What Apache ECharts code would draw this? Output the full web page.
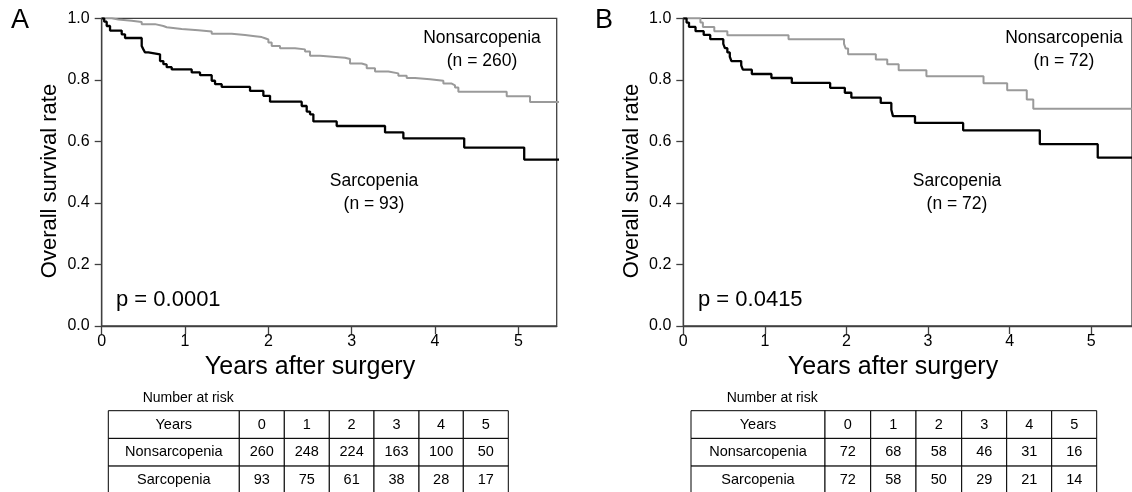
<!DOCTYPE html>
<html><head><meta charset="utf-8">
<script src="https://cdn.jsdelivr.net/npm/echarts@6/dist/echarts.min.js"></script>
<style>html,body{margin:0;padding:0;background:#fff}#c{width:1132px;height:492px}</style>
</head><body><div id="c"></div>
<script>
// ---- data ----
const yTicks = [0, 0.2, 0.4, 0.6, 0.8, 1.0];
const xTicks = [0, 1, 2, 3, 4, 5];
// Panel A
const nonA_t = [0, 0.12, 0.2, 0.36, 0.48, 0.64, 0.74, 0.78, 0.96, 1.16, 1.32, 1.56, 1.72, 1.84, 1.92, 1.96, 2.0, 2.04, 2.14, 2.32, 2.44, 2.5, 2.62, 2.92, 2.98, 3.12, 3.18, 3.28, 3.44, 3.56, 3.66, 3.76, 3.94, 4.1, 4.2, 4.24, 4.28, 4.86, 5.14, 5.5];
const nonA_s = [1.0, 0.996, 0.992, 0.988, 0.981, 0.975, 0.971, 0.965, 0.961, 0.957, 0.950, 0.946, 0.942, 0.939, 0.935, 0.931, 0.921, 0.910, 0.903, 0.899, 0.892, 0.878, 0.872, 0.868, 0.853, 0.848, 0.838, 0.827, 0.821, 0.813, 0.806, 0.802, 0.797, 0.788, 0.782, 0.775, 0.761, 0.747, 0.728, 0.728];
const sarA_t = [0, 0.03, 0.06, 0.1, 0.24, 0.28, 0.48, 0.5, 0.52, 0.56, 0.7, 0.74, 0.78, 0.84, 1.08, 1.18, 1.32, 1.36, 1.44, 1.78, 1.94, 2.02, 2.4, 2.46, 2.5, 2.54, 2.82, 3.4, 3.62, 4.35, 5.07, 5.5];
const sarA_s = [1.0, 0.989, 0.975, 0.96, 0.948, 0.936, 0.91, 0.899, 0.889, 0.883, 0.861, 0.851, 0.841, 0.834, 0.824, 0.815, 0.797, 0.786, 0.777, 0.764, 0.748, 0.729, 0.715, 0.697, 0.688, 0.665, 0.65, 0.629, 0.61, 0.58, 0.541, 0.541];
// Panel B
const nonB_t = [0, 0.21, 0.24, 0.38, 0.54, 1.29, 1.97, 1.99, 2.02, 2.36, 2.5, 2.64, 2.98, 3.68, 3.97, 4.21, 4.29, 5.5];
const nonB_s = [1.0, 0.986, 0.972, 0.958, 0.945, 0.932, 0.917, 0.902, 0.883, 0.866, 0.851, 0.831, 0.812, 0.789, 0.766, 0.736, 0.706, 0.706];
const sarB_t = [0, 0.04, 0.07, 0.15, 0.25, 0.33, 0.49, 0.51, 0.54, 0.57, 0.59, 0.71, 0.73, 0.84, 1.08, 1.33, 1.8, 1.98, 2.06, 2.42, 2.55, 2.57, 2.84, 3.43, 4.37, 5.08, 5.5];
const sarB_s = [1.0, 0.986, 0.972, 0.958, 0.946, 0.932, 0.917, 0.903, 0.889, 0.875, 0.861, 0.847, 0.833, 0.819, 0.806, 0.79, 0.774, 0.758, 0.742, 0.725, 0.703, 0.682, 0.66, 0.636, 0.591, 0.547, 0.547];
// Number at risk tables
const riskYears = [0, 1, 2, 3, 4, 5];
const riskNonA = [260, 248, 224, 163, 100, 50];
const riskSarA = [93, 75, 61, 38, 28, 17];
const riskNonB = [72, 68, 58, 46, 31, 16];
const riskSarB = [72, 58, 50, 29, 21, 14];
const rowLabels = ['Years', 'Nonsarcopenia', 'Sarcopenia'];
const groupNames = ['Nonsarcopenia', 'Sarcopenia'];
const pA = 'p = 0.0001', pB = 'p = 0.0415';
const nA = ['(n = 260)', '(n = 93)'], nB = ['(n = 72)', '(n = 72)'];

// ---- layout ----
const FONT = 'Liberation Sans, Arial, sans-serif';
const zip = (t, s) => t.map((v, i) => [v, s[i]]);
const grids = [
  {left: 101.7, top: 18.3, width: 455, height: 307.7, max: 5.46},
  {left: 683.3, top: 18.3, width: 456.5, height: 307.7, max: 5.5}
];
const option = {
  animation: false,
  backgroundColor: '#fff',
  grid: grids.map(g => ({left: g.left, top: g.top, width: g.width, height: g.height, show: true, borderColor: '#404040', borderWidth: 1.3, backgroundColor: 'transparent'})),
  xAxis: grids.map((g, i) => ({
    type: 'value', gridIndex: i, min: 0, max: g.max, interval: 1,
    axisLine: {lineStyle: {color: '#404040', width: 1.3}},
    axisTick: {show: true, length: 8, lineStyle: {color: '#404040', width: 1.3}, customValues: xTicks},
    axisLabel: {fontFamily: FONT, fontSize: 16, color: '#000', margin: 8, customValues: xTicks},
    splitLine: {show: false}
  })),
  yAxis: grids.map((g, i) => ({
    type: 'value', gridIndex: i, min: 0, max: 1, interval: 0.2,
    axisLine: {show: true, lineStyle: {color: '#404040', width: 1.3}},
    axisTick: {show: true, length: 7, lineStyle: {color: '#404040', width: 1.3}},
    axisLabel: {fontFamily: FONT, fontSize: 16, color: '#000', margin: 12, formatter: v => v.toFixed(1)},
    splitLine: {show: false}
  })),
  series: [
    {name: groupNames[0], type: 'line', step: 'end', xAxisIndex: 0, yAxisIndex: 0, showSymbol: false, data: zip(nonA_t, nonA_s), lineStyle: {color: '#9a9a9a', width: 2}, z: 2},
    {name: groupNames[1], type: 'line', step: 'end', xAxisIndex: 0, yAxisIndex: 0, showSymbol: false, data: zip(sarA_t, sarA_s), lineStyle: {color: '#000', width: 2.3}, z: 3},
    {name: groupNames[0], type: 'line', step: 'end', xAxisIndex: 1, yAxisIndex: 1, showSymbol: false, data: zip(nonB_t, nonB_s), lineStyle: {color: '#9a9a9a', width: 2}, z: 2},
    {name: groupNames[1], type: 'line', step: 'end', xAxisIndex: 1, yAxisIndex: 1, showSymbol: false, data: zip(sarB_t, sarB_s), lineStyle: {color: '#000', width: 2.3}, z: 3}
  ],
  graphic: []
};

const G = option.graphic;
function txt(x, y, text, size, align, rot) {
  G.push({type: 'text', x: x, y: y, rotation: rot || 0, z: 10,
    style: {text: text, fontFamily: FONT, fontSize: size, fill: '#000', align: align || 'center', verticalAlign: 'middle'}});
}
// panel letters
txt(20, 21, 'A', 27); txt(604, 21, 'B', 27);
// axis titles
txt(310, 367, 'Years after surgery', 25); txt(893, 367, 'Years after surgery', 25);
txt(50, 181, 'Overall survival rate', 22, 'center', Math.PI / 2);
txt(632, 181, 'Overall survival rate', 22, 'center', Math.PI / 2);
// group labels
txt(482, 38, groupNames[0], 17.5); txt(482, 61, nA[0], 17.5);
txt(374, 181, groupNames[1], 17.5); txt(374, 204, nA[1], 17.5);
txt(1064, 38, groupNames[0], 17.5); txt(1064, 61, nB[0], 17.5);
txt(957, 181, groupNames[1], 17.5); txt(957, 204, nB[1], 17.5);
// p values
txt(116, 300, pA, 22, 'left'); txt(698, 300, pB, 22, 'left');

// tables
function table(colEdges, top, rowH, rows, titleX) {
  txt(titleX, 398, 'Number at risk', 14, 'left');
  rows.forEach((row, r) => {
    row.forEach((cell, c) => {
      const x0 = colEdges[c], x1 = colEdges[c + 1];
      const y0 = top + r * rowH;
      G.push({type: 'rect', z: 5, shape: {x: x0, y: y0, width: x1 - x0, height: rowH},
        style: {fill: '#fff', stroke: '#000', lineWidth: 1}});
      txt((x0 + x1) / 2, y0 + rowH / 2, String(cell), 14.5);
    });
  });
}
table([108.3, 239.3, 284.3, 329.3, 374, 419, 463.3, 508.3], 410.7, 27.7,
  [[rowLabels[0]].concat(riskYears), [rowLabels[1]].concat(riskNonA), [rowLabels[2]].concat(riskSarA)], 142.7);
table([691, 825, 870.7, 916, 961.7, 1006.7, 1051.7, 1096.7], 410.7, 27.7,
  [[rowLabels[0]].concat(riskYears), [rowLabels[1]].concat(riskNonB), [rowLabels[2]].concat(riskSarB)], 726.7);

const chart = echarts.init(document.getElementById('c'), null, {renderer: 'canvas'});
chart.setOption(option);
</script></body></html>
